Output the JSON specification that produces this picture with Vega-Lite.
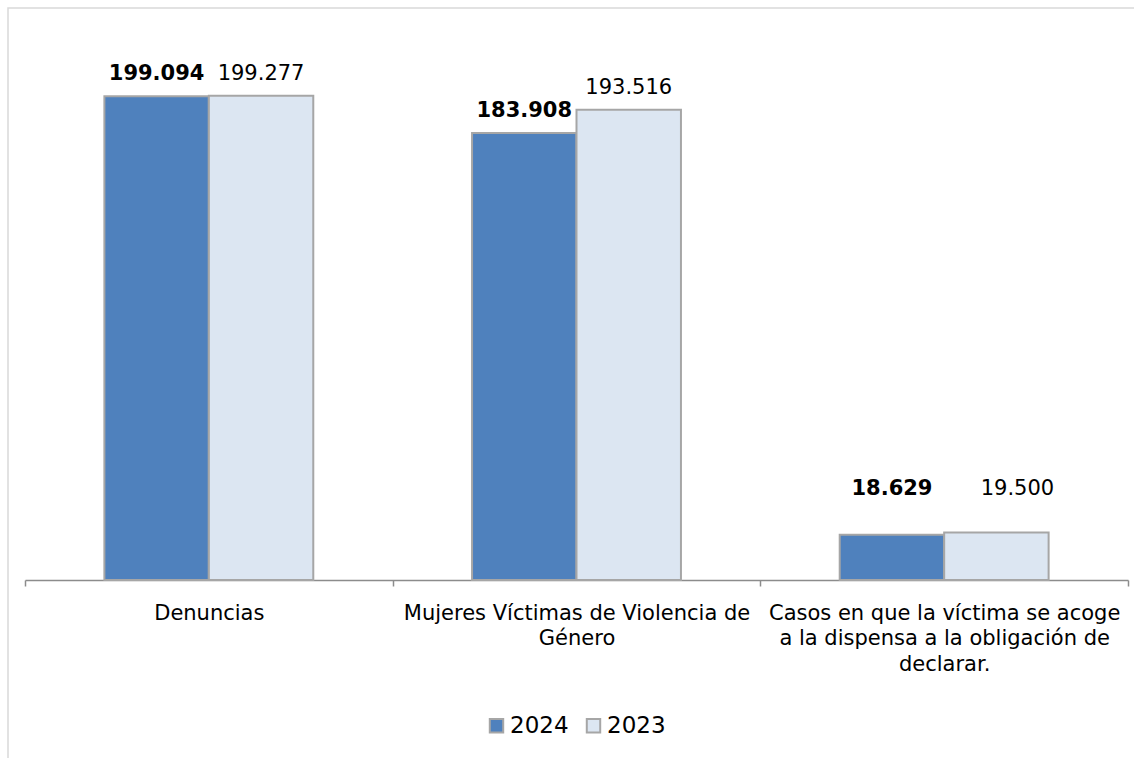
{
  "$schema": "https://vega.github.io/schema/vega-lite/v6.json",
  "width": 1140,
  "height": 760,
  "autosize": {"type": "none"},
  "padding": {"left": 8, "top": 8, "right": 0, "bottom": 0},
  "background": "white",
  "config": {
    "view": {"stroke": "#d9d9d9", "strokeWidth": 1.5},
    "font": "DejaVu Sans",
    "locale": {"number": {"decimal": ",", "thousands": ".", "grouping": [3], "currency": ["", ""]}}
  },
  "data": {
    "values": [
      {"categoria": "Denuncias", "anio": "2024", "valor": 199094},
      {"categoria": "Denuncias", "anio": "2023", "valor": 199277},
      {"categoria": "Mujeres Víctimas de Violencia de Género", "anio": "2024", "valor": 183908},
      {"categoria": "Mujeres Víctimas de Violencia de Género", "anio": "2023", "valor": 193516},
      {"categoria": "Casos en que la víctima se acoge a la dispensa a la obligación de declarar.", "anio": "2024", "valor": 18629},
      {"categoria": "Casos en que la víctima se acoge a la dispensa a la obligación de declarar.", "anio": "2023", "valor": 19500}
    ]
  },
  "encoding": {
    "x": {
      "field": "categoria",
      "type": "nominal",
      "sort": null,
      "title": null,
      "scale": {"range": [17, 1120], "paddingInner": 0, "paddingOuter": 0},
      "axis": {
        "orient": "bottom",
        "offset": -188,
        "labelAngle": 0,
        "tickBand": "extent",
        "domainColor": "#8c8c8c",
        "domainWidth": 1.5,
        "tickColor": "#8c8c8c",
        "tickWidth": 1.5,
        "tickSize": 6,
        "labelFont": "DejaVu Sans",
        "labelFontSize": 21,
        "labelColor": "#000000",
        "labelPadding": 16,
        "labelLineHeight": 25.5,
        "labelLimit": 0,
        "labelExpr": "datum.value == 'Mujeres Víctimas de Violencia de Género' ? ['Mujeres Víctimas de Violencia de', 'Género'] : datum.value == 'Casos en que la víctima se acoge a la dispensa a la obligación de declarar.' ? ['Casos en que la víctima se acoge', 'a la dispensa a la obligación de', 'declarar.'] : datum.value"
      }
    },
    "xOffset": {
      "field": "anio",
      "type": "nominal",
      "sort": ["2024", "2023"],
      "scale": {"paddingOuter": 0.76, "paddingInner": 0}
    },
    "y": {
      "field": "valor",
      "type": "quantitative",
      "scale": {"domain": [0, 200000], "range": [572, 86], "nice": false, "zero": true},
      "axis": null
    }
  },
  "layer": [
    {
      "mark": {"type": "bar", "stroke": "#a6a6a6", "strokeWidth": 2},
      "encoding": {
        "color": {
          "field": "anio",
          "type": "nominal",
          "scale": {"domain": ["2024", "2023"], "range": ["#4F81BD", "#DCE6F2"]},
          "legend": {
            "title": null,
            "orient": "none",
            "direction": "horizontal",
            "legendX": 477,
            "legendY": 706,
            "symbolType": "square",
            "symbolSize": 180,
            "symbolStrokeColor": "#a6a6a6",
            "symbolStrokeWidth": 2,
            "labelFont": "DejaVu Sans",
            "labelFontSize": 23,
            "labelColor": "#000000",
            "labelOffset": 2,
            "columnPadding": 13
          }
        }
      }
    },
    {
      "transform": [{"filter": "datum.anio == '2024' && datum.valor > 100000"}],
      "mark": {"type": "text", "fontWeight": "bold", "fontSize": 21, "baseline": "alphabetic", "dy": -16, "color": "#000000"},
      "encoding": {"text": {"field": "valor", "type": "quantitative", "format": ",d"}}
    },
    {
      "transform": [{"filter": "datum.anio == '2023' && datum.valor > 100000"}],
      "mark": {"type": "text", "fontSize": 21, "baseline": "alphabetic", "dy": -16, "color": "#000000"},
      "encoding": {"text": {"field": "valor", "type": "quantitative", "format": ",d"}}
    },
    {
      "transform": [{"filter": "datum.anio == '2024' && datum.valor < 100000"}],
      "mark": {"type": "text", "fontWeight": "bold", "fontSize": 21, "baseline": "alphabetic", "dy": -40, "color": "#000000"},
      "encoding": {"text": {"field": "valor", "type": "quantitative", "format": ",d"}}
    },
    {
      "transform": [{"filter": "datum.anio == '2023' && datum.valor < 100000"}],
      "mark": {"type": "text", "fontSize": 21, "baseline": "alphabetic", "dy": -38, "dx": 21, "color": "#000000"},
      "encoding": {"text": {"field": "valor", "type": "quantitative", "format": ",d"}}
    }
  ]
}
